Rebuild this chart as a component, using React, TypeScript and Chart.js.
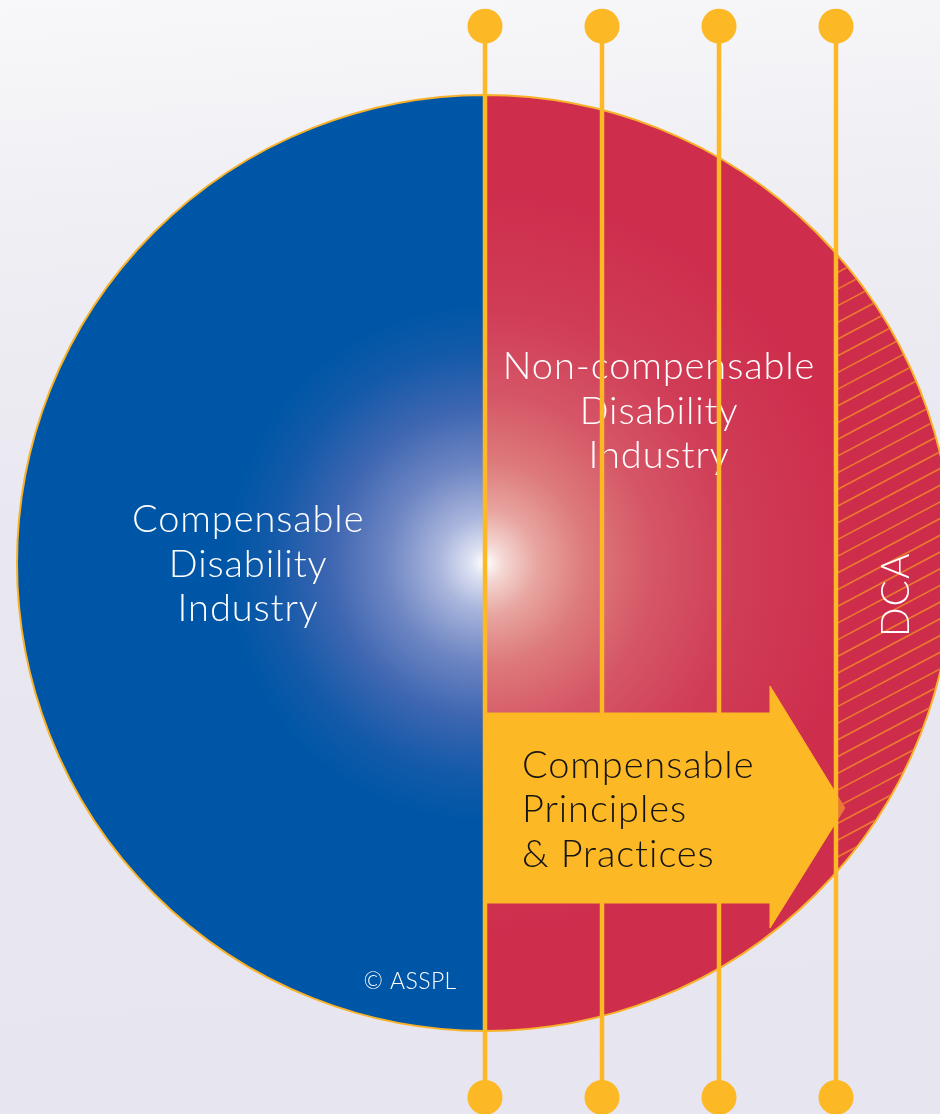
import React, { useEffect, useRef } from 'react';
import { Chart, registerables } from 'chart.js';

Chart.register(...registerables);

// ---------------- data (circle radius = 1 unit, circle centre = 0,0) ----------------
const sectorLabels = ['Compensable Disability Industry', 'Non-compensable Disability Industry'];
const sectorShares = [50, 50];
const dividerX = [0, 0.25, 0.5, 0.75];
const pinEndsY = [1.147, -1.142];
const dcaFromX = 0.75;
const arrowX = [0, 0.609, 0.609, 0.769, 0.609, 0.609, 0, 0];
const arrowY = [-0.3205, -0.3205, -0.2628, -0.5235, -0.78, -0.7265, -0.7265, -0.3205];
const leftLabel = ['Compensable', 'Disability', 'Industry'];
const rightLabel = ['Non-compensable', 'Disability', 'Industry'];
const arrowLabel = ['Compensable', 'Principles', '& Practices'];
const dcaLabel = 'DCA';
const copyrightLabel = '\u00A9 ASSPL';

// ---------------- layout & style ----------------
const W = 970;
const H = 1114;
const CX = 485;
const CY = 563;
const R = 468;
const BLUE = '#0056A6';
const RED = '#CE2D4C';
const YELLOW = '#FDB826';
const RIM = '#F7B22A';
const HATCH = '#E9772F';
const FONT = 'Lato, "Open Sans", sans-serif';
const LINE_STEP = 44.5;

const leftLabelPos = { x: -0.506, y: 0.066 };
const rightLabelPos = { x: 0.372, y: 0.393 };
const arrowLabelPos = { x: 0.079, y: -0.459 };
const dcaPos = { x: 0.88, y: -0.068 };
const copyPos = { x: -0.16, y: -0.91 };

function sectorFill(c: any) {
  const chart = c.chart;
  const area = chart.chartArea;
  const i = c.dataIndex;
  if (!area) return i === 0 ? BLUE : RED;
  const cx = (area.left + area.right) / 2;
  const cy = (area.top + area.bottom) / 2;
  const r = Math.min(area.width, area.height) / 2;
  const ctx = chart.ctx as CanvasRenderingContext2D;
  if (i === 0) {
    const g = ctx.createRadialGradient(cx, cy, 0, cx, cy, r * 0.55);
    g.addColorStop(0, '#FFFFFF');
    g.addColorStop(0.06, '#DCE1F2');
    g.addColorStop(0.18, '#A9B5DC');
    g.addColorStop(0.38, '#6E86C3');
    g.addColorStop(0.6, '#3E66B1');
    g.addColorStop(0.82, '#145AA9');
    g.addColorStop(1, BLUE);
    return g;
  }
  const g = ctx.createRadialGradient(cx, cy, 0, cx, cy, r * 0.8);
  g.addColorStop(0, '#FFFFFF');
  g.addColorStop(0.05, '#F4D6D2');
  g.addColorStop(0.14, '#E8A5A0');
  g.addColorStop(0.27, '#DD7A7B');
  g.addColorStop(0.45, '#D55666');
  g.addColorStop(0.68, '#D03C56');
  g.addColorStop(1, RED);
  return g;
}

function drawLines(ctx: CanvasRenderingContext2D, lines: string[], x: number, y: number, align: CanvasTextAlign) {
  ctx.textAlign = align;
  ctx.textBaseline = 'alphabetic';
  lines.forEach((t, k) => ctx.fillText(t, x, y + k * LINE_STEP));
}

function setFont(ctx: any, size: number, spacing: number) {
  ctx.font = `300 ${size}px ${FONT}`;
  if ('letterSpacing' in ctx) ctx.letterSpacing = `${spacing}px`;
}

const diagramPlugin = {
  id: 'diagramOverlay',
  beforeDatasetsDraw(chart: any) {
    const { ctx, scales } = chart;
    const xs = scales.x;
    const ys = scales.y;
    ctx.save();
    ctx.fillStyle = '#FFFFFF';
    setFont(ctx, 38, 0.9);
    drawLines(ctx, leftLabel, xs.getPixelForValue(leftLabelPos.x), ys.getPixelForValue(leftLabelPos.y), 'center');
    drawLines(ctx, rightLabel, xs.getPixelForValue(rightLabelPos.x), ys.getPixelForValue(rightLabelPos.y), 'center');
    setFont(ctx, 23, 0.4);
    ctx.textAlign = 'center';
    ctx.fillText(copyrightLabel, xs.getPixelForValue(copyPos.x), ys.getPixelForValue(copyPos.y));
    ctx.restore();
  },
  afterDatasetDraw(chart: any, args: any) {
    if (args.index !== 0) return;
    const { ctx, scales } = chart;
    const xs = scales.x;
    const ys = scales.y;
    // arrow caption
    ctx.save();
    ctx.fillStyle = '#141414';
    setFont(ctx, 38, 0.9);
    drawLines(ctx, arrowLabel, xs.getPixelForValue(arrowLabelPos.x), ys.getPixelForValue(arrowLabelPos.y), 'left');
    ctx.restore();
    // DCA hatched segment
    const cx = xs.getPixelForValue(0);
    const cy = ys.getPixelForValue(0);
    const r = xs.getPixelForValue(1) - cx;
    const x0 = xs.getPixelForValue(dcaFromX);
    ctx.save();
    ctx.beginPath();
    ctx.arc(cx, cy, r - 1, 0, Math.PI * 2);
    ctx.clip();
    ctx.beginPath();
    ctx.rect(x0, 0, chart.width - x0, chart.height);
    ctx.clip();
    ctx.fillStyle = 'rgba(206,45,76,0.45)';
    ctx.fillRect(x0, 0, chart.width - x0, chart.height);
    ctx.strokeStyle = HATCH;
    ctx.lineWidth = 1.7;
    const slope = -0.53;
    const step = 16.7;
    const span = 200;
    ctx.beginPath();
    for (let k = -60; k < 120; k++) {
      const y = 323.3 + k * step;
      ctx.moveTo(x0 - 2, y - slope * 2);
      ctx.lineTo(x0 + span, y + slope * span);
    }
    ctx.stroke();
    ctx.restore();
  },
  afterDatasetsDraw(chart: any) {
    const { ctx, scales } = chart;
    ctx.save();
    ctx.translate(scales.x.getPixelForValue(dcaPos.x), scales.y.getPixelForValue(dcaPos.y));
    ctx.rotate(-Math.PI / 2);
    ctx.fillStyle = '#FFFFFF';
    setFont(ctx, 39, 1);
    ctx.textAlign = 'center';
    ctx.textBaseline = 'middle';
    ctx.fillText(dcaLabel, 0, 0);
    ctx.restore();
  },
};

export default function App() {
  const pieRef = useRef<HTMLCanvasElement>(null);
  const topRef = useRef<HTMLCanvasElement>(null);

  useEffect(() => {
    document.body.style.margin = '0';

    const pie = new Chart(pieRef.current as HTMLCanvasElement, {
      type: 'pie',
      data: {
        labels: sectorLabels,
        datasets: [
          {
            data: sectorShares,
            backgroundColor: sectorFill as any,
            borderColor: RIM,
            borderWidth: 2,
          },
        ],
      },
      options: {
        responsive: false,
        animation: false,
        events: [],
        rotation: 180,
        radius: R,
        layout: { padding: { left: CX - R, right: W - CX - R, top: CY - R, bottom: H - CY - R } },
        plugins: { legend: { display: false }, tooltip: { enabled: false } },
      } as any,
    });

    const arrowData = arrowX.map((x, i) => ({ x, y: arrowY[i] }));
    const dividerSets = dividerX.map((x) => ({
      type: 'line' as const,
      data: pinEndsY.map((y) => ({ x, y })),
      borderColor: YELLOW,
      borderWidth: 4.5,
      pointRadius: 17.5,
      pointBackgroundColor: YELLOW,
      pointBorderWidth: 0,
      fill: false,
      tension: 0,
      clip: false as any,
      order: x >= dcaFromX ? 1 : 3,
    }));

    const top = new Chart(topRef.current as HTMLCanvasElement, {
      type: 'scatter',
      data: {
        datasets: [
          {
            type: 'line',
            data: arrowData,
            borderColor: YELLOW,
            borderWidth: 1,
            backgroundColor: YELLOW,
            pointRadius: 0,
            fill: 'shape',
            tension: 0,
            clip: false as any,
            order: 2,
          },
          ...dividerSets,
        ] as any,
      },
      options: {
        responsive: false,
        animation: false,
        events: [],
        layout: { padding: 0, autoPadding: false },
        scales: {
          x: { type: 'linear', display: false, min: -CX / R, max: (W - CX) / R },
          y: { type: 'linear', display: false, min: -(H - CY) / R, max: CY / R },
        },
        plugins: { legend: { display: false }, tooltip: { enabled: false } },
      } as any,
      plugins: [diagramPlugin],
    });

    return () => {
      pie.destroy();
      top.destroy();
    };
  }, []);

  return (
    <div
      style={{
        position: 'relative',
        width: 940,
        height: 1114,
        overflow: 'hidden',
        background: 'linear-gradient(176deg, #F8F7F9 0%, #F0EFF4 18%, #E9E7F0 45%, #E7E5EF 100%)',
      }}
    >
      <canvas ref={pieRef} width={W} height={H} style={{ position: 'absolute', left: 0, top: 0, width: W, height: H }} />
      <canvas ref={topRef} width={W} height={H} style={{ position: 'absolute', left: 0, top: 0, width: W, height: H }} />
    </div>
  );
}
